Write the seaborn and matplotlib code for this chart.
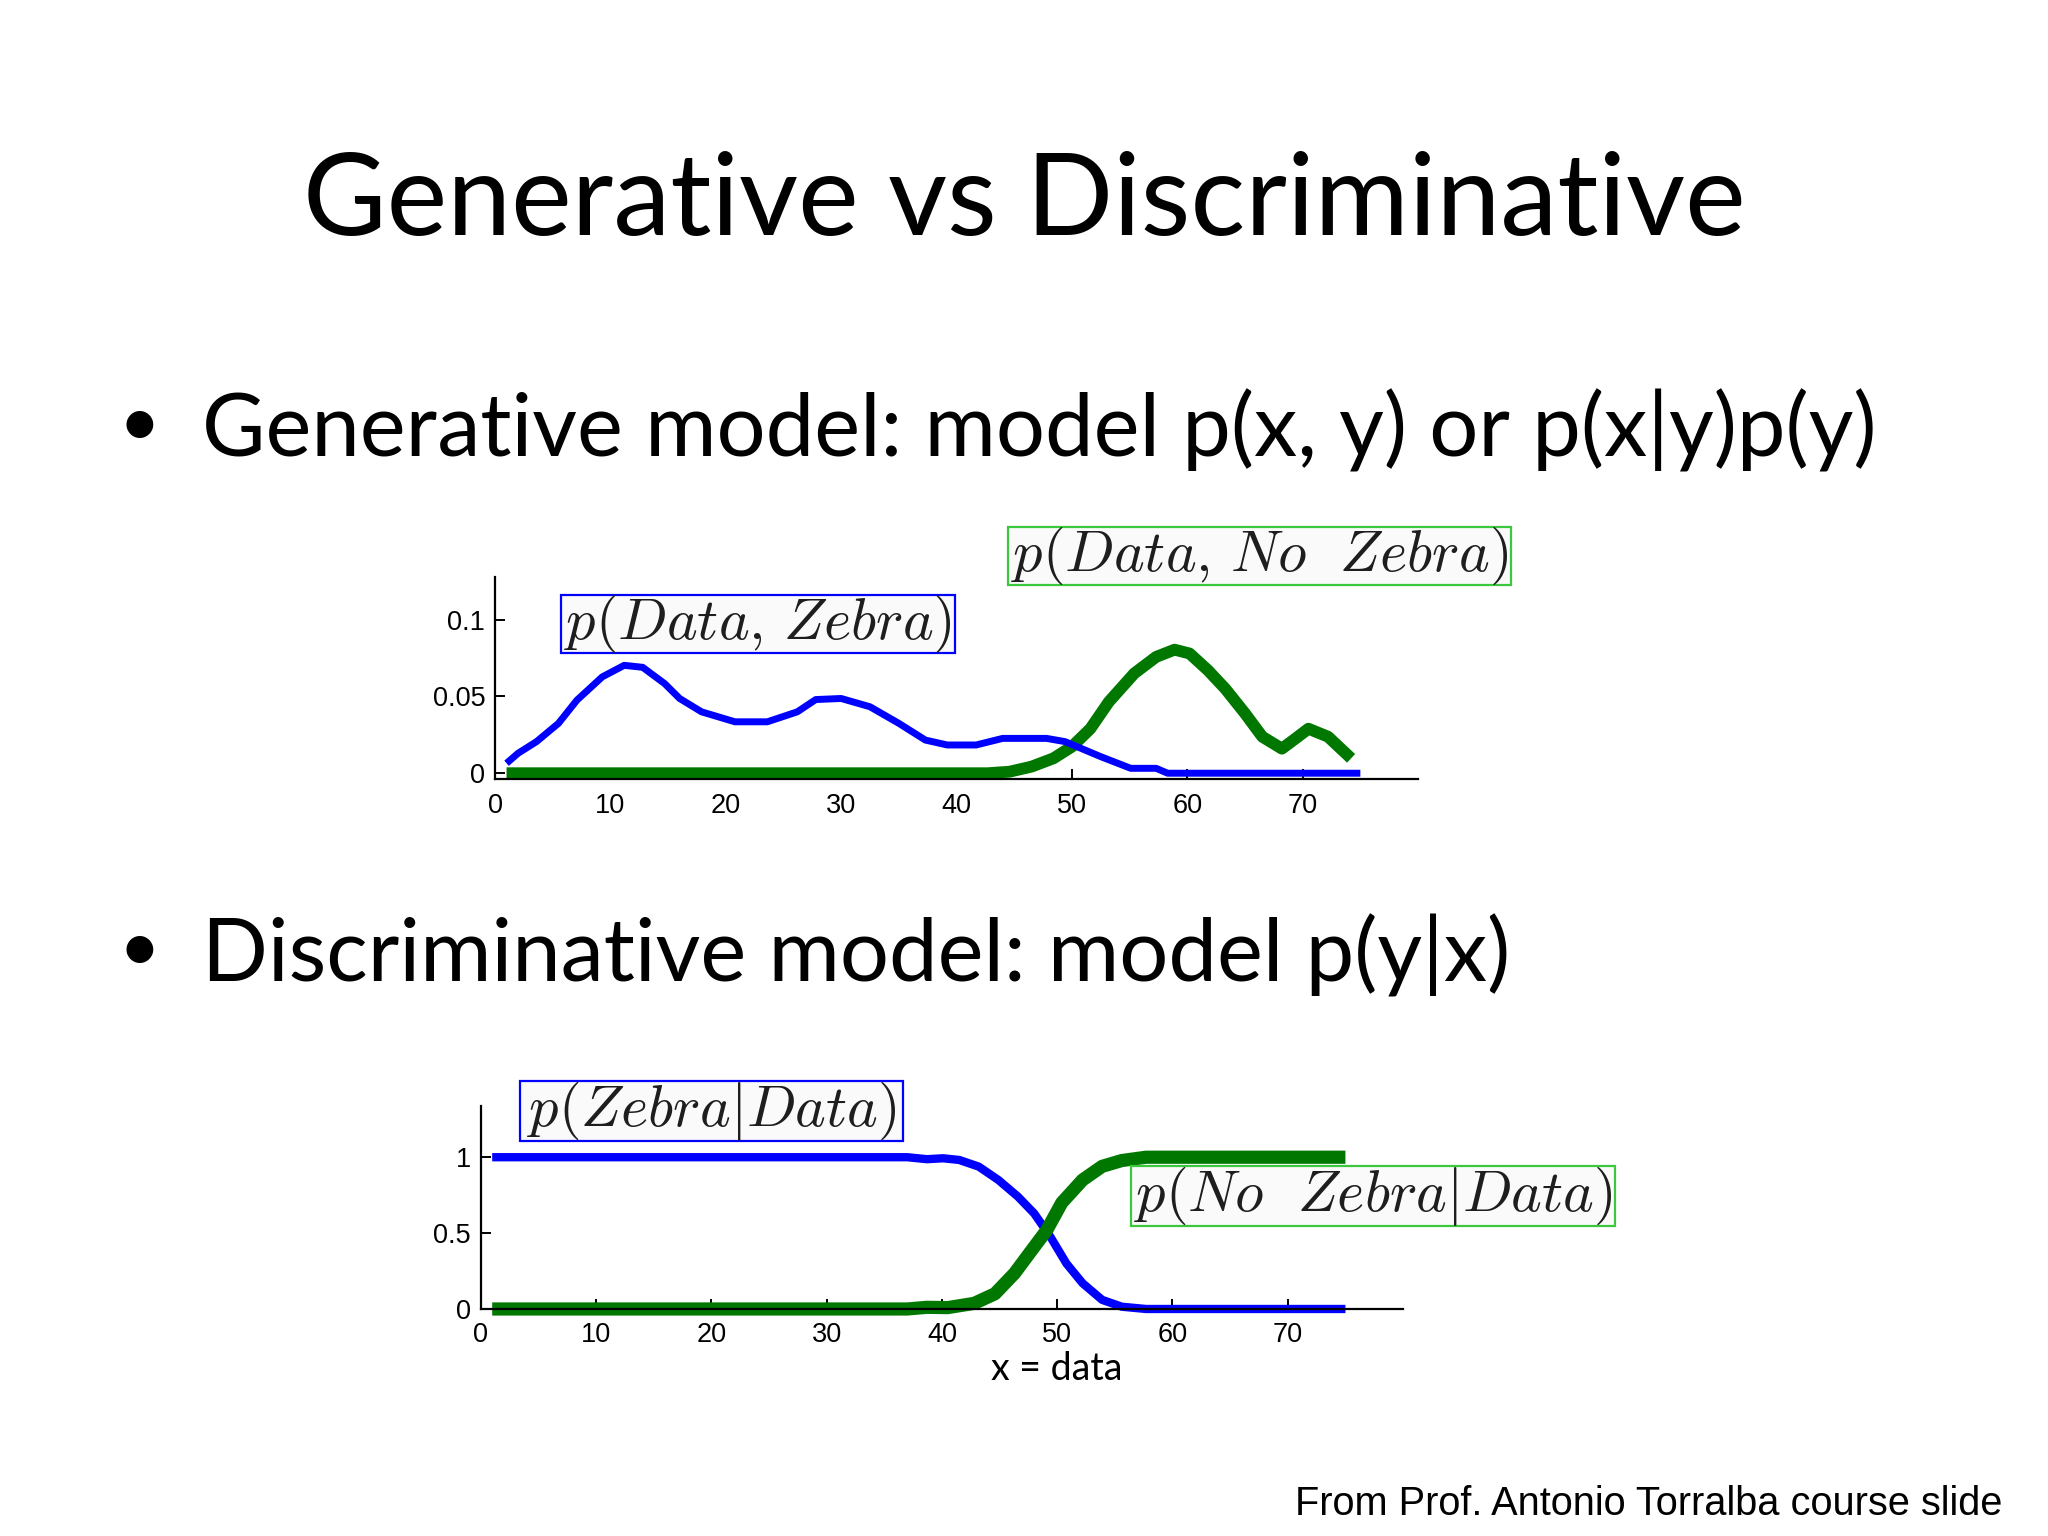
import seaborn as sns
import matplotlib.pyplot as plt
import matplotlib.patches as mpatches
from matplotlib.transforms import IdentityTransform

# generative: p(Data, Zebra) and p(Data, No Zebra)
gen_zebra_x = [1, 2, 3.6, 5.5, 7.1, 9.3, 11.2, 12.8, 14.7, 16, 17.9, 20.8, 23.6, 26.2,
               27.8, 30, 32.5, 35, 37.3, 39.2, 41.7, 44, 47.8, 49.4, 52.5, 55.1, 57.3,
               58.3, 75]
gen_zebra_y = [0.0065, 0.013, 0.0206, 0.0325, 0.0476, 0.0628, 0.0703, 0.069, 0.0584,
               0.0487, 0.040, 0.0335, 0.0335, 0.040, 0.048, 0.0487, 0.0433, 0.0325,
               0.0216, 0.0184, 0.0184, 0.0227, 0.0227, 0.0206, 0.0108, 0.0032, 0.0032,
               0.0, 0.0]
gen_nozebra_x = [1, 42.7, 44.6, 46.5, 48.4, 50, 51.6, 53.2, 55.4, 57.3, 58.9, 60.2,
                 61.8, 63.3, 65, 66.5, 68.2, 69.4, 70.5, 72.2, 74.2]
gen_nozebra_y = [0.0, 0.0, 0.001, 0.0043, 0.0097, 0.0173, 0.029, 0.0465, 0.065, 0.0758,
                 0.0805, 0.078, 0.067, 0.055, 0.039, 0.0238, 0.016, 0.0227, 0.029,
                 0.0238, 0.0097]

# discriminative: p(Zebra|Data) and p(No Zebra|Data)
disc_zebra_x = [1, 37, 38.7, 40.1, 41.5, 43.2, 44.9, 46.6, 48, 49.4, 50.8, 52.2, 53.9,
                55.6, 57.7, 75]
disc_zebra_y = [1.0, 1.0, 0.987, 0.993, 0.982, 0.938, 0.85, 0.74, 0.63, 0.477, 0.30,
                0.17, 0.06, 0.015, 0.0, 0.0]
disc_nozebra_x = [1, 37, 38.7, 40.5, 42.8, 44.6, 46.3, 47.7, 49.1, 50.4, 52.2, 53.9,
                  55.6, 57.7, 75]
disc_nozebra_y = [0.0, 0.0, 0.011, 0.009, 0.037, 0.10, 0.235, 0.378, 0.52, 0.70, 0.85,
                  0.94, 0.978, 1.0, 1.0]

x_ticks = [0, 10, 20, 30, 40, 50, 60, 70]
gen_yticks = [0, 0.05, 0.1]
gen_ylabels = ["0", "0.05", "0.1"]
disc_yticks = [0, 0.5, 1]
disc_ylabels = ["0", "0.5", "1"]

BLUE = "#0000ff"
GREEN = "#007800"
BOX_GREEN = "#3cc83c"

sns.set_style("ticks")
plt.rcParams["font.family"] = ["Lato", "DejaVu Sans"]
plt.rcParams["mathtext.fontset"] = "cm"
plt.rcParams["text.color"] = "black"

fig = plt.figure(figsize=(20.48, 15.36), dpi=100)

# slide text
fig.text(0.5, 0.847, "Generative vs Discriminative", ha="center", va="baseline",
         fontsize=82.5, color="black")
fig.text(0.068, 0.7095, "\u2022", ha="center", va="baseline", fontsize=52)
fig.text(0.0988, 0.7025, "Generative model: model p(x, y) or p(x|y)p(y)",
         ha="left", va="baseline", fontsize=62.5)
fig.text(0.068, 0.3677, "\u2022", ha="center", va="baseline", fontsize=52)
fig.text(0.0988, 0.3607, "Discriminative model: model p(y|x)",
         ha="left", va="baseline", fontsize=62.5)
fig.text(0.9775, 0.0137, "From Prof. Antonio Torralba course slide", ha="right",
         va="baseline", fontsize=28.6, family=["Liberation Sans", "DejaVu Sans"])


def style_axes(ax, yticks, ylabels, ylim, xpad):
    ax.set_xlim(0, 80)
    ax.set_ylim(*ylim)
    ax.set_xticks(x_ticks)
    ax.set_yticks(yticks)
    ax.set_yticklabels(ylabels)
    for side in ["top", "right"]:
        ax.spines[side].set_visible(False)
    for side in ["left", "bottom"]:
        ax.spines[side].set_linewidth(1.6)
        ax.spines[side].set_color("black")
    ax.tick_params(direction="in", length=7, width=1.4, pad=7, labelsize=19.5,
                   colors="black")
    ax.tick_params(axis="x", pad=xpad)
    for lab in ax.get_xticklabels() + ax.get_yticklabels():
        lab.set_family(["Liberation Sans", "DejaVu Sans"])
    ax.set_xlabel("")
    ax.set_ylabel("")
    ax.patch.set_alpha(0)


boxed = []


def label_box(ax, x, y, text, edge, hpad=3):
    t = ax.text(x, y, text, ha="center", va="center", fontsize=42, color="#1e1e1e",
                clip_on=False, zorder=6)
    boxed.append((ax, t, edge, hpad))


# generative chart
ax1 = fig.add_axes([0.2417, 0.4926, 0.4507, 0.1319])
sns.lineplot(x=gen_nozebra_x, y=gen_nozebra_y, ax=ax1, color=GREEN, linewidth=8.5,
             estimator=None, sort=False, clip_on=False)
sns.lineplot(x=gen_zebra_x, y=gen_zebra_y, ax=ax1, color=BLUE, linewidth=5,
             estimator=None, sort=False, clip_on=False)
style_axes(ax1, gen_yticks, gen_ylabels, (-0.004, 0.128), 10)
label_box(ax1, 22.8, 0.0973, r"$p(Data,\,Zebra)$", BLUE)
label_box(ax1, 66.3, 0.1418, r"$p(Data,\,No\ \ Zebra)$", BOX_GREEN)

# discriminative chart
ax2 = fig.add_axes([0.2347, 0.1475, 0.4504, 0.1325])
sns.lineplot(x=disc_zebra_x, y=disc_zebra_y, ax=ax2, color=BLUE, linewidth=6,
             estimator=None, sort=False, clip_on=False)
sns.lineplot(x=disc_nozebra_x, y=disc_nozebra_y, ax=ax2, color=GREEN, linewidth=9.5,
             estimator=None, sort=False, clip_on=False)
style_axes(ax2, disc_yticks, disc_ylabels, (-0.003, 1.338), 9)
label_box(ax2, 20.0, 1.302, r"$p(Zebra|Data)$", BLUE, hpad=7)
label_box(ax2, 77.4, 0.742, r"$p(No\ \ Zebra|Data)$", BOX_GREEN)
ax2.text(50, -0.47, "x = data", ha="center", va="baseline", fontsize=27,
         color="black")

for ax in (ax1, ax2):
    for line in ax.get_lines():
        line.set_solid_capstyle("butt")
        line.set_solid_joinstyle("round")

# tight frames around the label texts (parentheses slightly overflow, as in LaTeX figures)
fig.canvas.draw()
for ax, t, edge, hpad in boxed:
    bb = t.get_window_extent()
    rect = mpatches.Rectangle((bb.x0 - hpad, bb.y0 + 2), bb.width + 2 * hpad,
                              bb.height - 4, transform=IdentityTransform(),
                              facecolor="#fafafa", edgecolor=edge, linewidth=1.6,
                              zorder=5, clip_on=False)
    ax.add_patch(rect)

fig.savefig("out.png", dpi=100, facecolor="white")
